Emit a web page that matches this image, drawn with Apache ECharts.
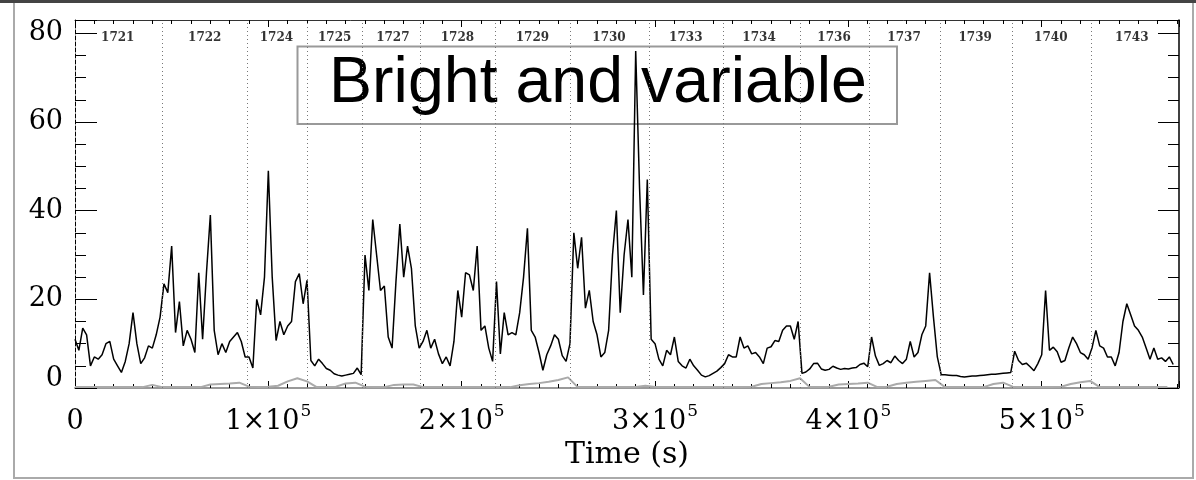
<!DOCTYPE html>
<html>
<head>
<meta charset="utf-8">
<script src="https://cdn.jsdelivr.net/npm/echarts@6/dist/echarts.min.js"></script>
<style>
  html, body {margin: 0; padding: 0; background: #fff;}
  #chart {width: 1196px; height: 480px;}
</style>
</head>
<body>
<div id="chart"></div>
<script>
// time sampling (s) of the light curves
const STEP = 2000;
const GREY_STEP = 5000;

// observation boundaries (s) and the obsid labels written along the top
const obsEdges = [45200, 89200, 120300, 148400, 178400, 217400, 256000, 297100, 335100, 375000, 410700, 447400, 484500, 525400];
const obsIds = ['1721', '1722', '1724', '1725', '1727', '1728', '1729', '1730', '1733', '1734', '1736', '1737', '1739', '1740', '1743'];
const obsIdTimes = [22100, 67100, 104200, 134300, 164400, 197800, 236600, 276200, 315900, 353800, 392600, 428800, 465600, 504700, 546600];

// source count rate, one value every STEP seconds
const rate = [
  11, 8.5, 13.5, 12, 5, 7, 6.5, 7.5, 10, 10.5,
  6.5, 5, 3.5, 6, 10, 17, 10, 5.5, 6.8, 9.5,
  9, 12, 16, 23.5, 21.5, 32, 12.5, 19.5, 9.5, 13,
  11, 8, 26, 11, 26, 39, 13, 7.5, 10, 8,
  10.5, 11.5, 12.5, 10.5, 7, 7, 4.5, 20, 16.5, 25,
  49, 25, 10.7, 15, 12, 14, 15, 24, 25.8, 19,
  24.3, 6.2, 5, 6.5, 5.5, 4.4, 4, 3.2, 2.9, 2.7,
  2.9, 3.1, 3.3, 4.5, 3, 30, 22, 38, 30, 22,
  23, 11.5, 9, 24, 37, 25, 32, 27, 14, 9,
  10.5, 13, 9, 11, 7.7, 5.5, 7, 5, 10.5, 22,
  16, 26, 25.5, 22, 32, 13, 14, 9, 6, 24,
  7.7, 17, 12, 12.5, 12, 17, 25, 36, 13, 11.5,
  8, 4, 7.5, 9.5, 12, 11, 7.3, 6, 10, 35,
  27, 34, 18, 22, 15, 12, 7, 8, 13, 30,
  40, 17, 30, 38, 25, 76, 45, 21, 47, 11,
  10, 6.5, 5, 8.5, 7.5, 11.5, 6, 5, 4.5, 6.5,
  5, 4, 2.9, 2.5, 2.8, 3.3, 3.8, 4.6, 5.5, 7.5,
  7, 7, 11.5, 9, 9.5, 7.7, 8, 7, 5.5, 9,
  9.3, 10.7, 10.5, 13, 14, 14, 11, 15, 3.3, 3.6,
  4.3, 5.5, 5.6, 4.3, 4, 4.2, 4.9, 4.5, 4.2, 4.4,
  4.3, 4.5, 4.6, 5.3, 5.6, 4.8, 11.5, 7.2, 5.1, 5.5,
  6.2, 5.7, 7.2, 6.2, 5.5, 6.5, 10.5, 7, 8, 12,
  14, 26, 16, 7, 3, 3, 2.9, 2.8, 2.8, 2.6,
  2.5, 2.6, 2.7, 2.7, 2.8, 2.9, 3, 3.1, 3.1, 3.2,
  3.3, 3.4, 3.5, 8.3, 6.2, 5.3, 5.6, 4.8, 3.9, 5.5,
  7.5, 22, 8.5, 9.2, 8.2, 5.8, 6.2, 9, 11.5, 10,
  8, 7.5, 6.5, 9, 13, 9.5, 9, 7, 7, 5,
  8, 15, 19, 16.5, 14, 13, 11.5, 9, 6.5, 9,
  6.5, 6.8, 6, 7, 5.3
];

// background rate (grey), one value every GREY_STEP seconds
const background = [
  0.2, 0.2, 0.2, 0.2, 0.2, 0.2, 0.2, 0.2, 0.7, 0.2,
  0.2, 0.2, 0.2, 0.2, 0.8, 0.9, 1.0, 1.2, 0.3, 0.2,
  0.3, 0.5, 1.5, 2.2, 1.5, 0.2, 0.2, 0.3, 1.0, 1.2,
  0.3, 0.2, 0.2, 0.7, 0.8, 0.8, 0.2, 0.2, 0.2, 0.2,
  0.2, 0.2, 0.2, 0.2, 0.2, 0.2, 0.6, 0.9, 1.1, 1.4,
  1.8, 2.4, 0.2, 0.2, 0.2, 0.2, 0.2, 0.2, 0.2, 0.5,
  0.2, 0.2, 0.2, 0.2, 0.2, 0.2, 0.2, 0.2, 0.2, 0.2,
  0.3, 0.9, 1.1, 1.3, 1.6, 2.2, 0.2, 0.2, 0.3, 0.8,
  0.9, 1.0, 1.2, 0.2, 0.3, 0.9, 1.2, 1.4, 1.6, 1.8,
  0.2, 0.2, 0.2, 0.2, 0.2, 0.9, 1.2, 0.3, 0.2, 0.2,
  0.2, 0.2, 0.3, 0.9, 1.3, 1.6, 0.2, 0.2, 0.2, 0.2,
  0.2, 0.2, 0.2, 0.2
];

const X_MAX = 571000;
const Y_MAX = 83;
const serif = 'DejaVu Serif';

const chart = echarts.init(document.getElementById('chart'));

const tickStyle = {color: '#000', width: 1};

chart.setOption({
  animation: false,
  grid: {left: 75, right: 17, top: 20, bottom: 92},
  xAxis: [
    {
      type: 'value', position: 'bottom', min: 0, max: X_MAX, interval: 100000,
      axisLine: {show: true, onZero: false, lineStyle: {color: '#999', width: 2}},
      axisTick: {show: true, inside: true, length: 7, lineStyle: tickStyle},
      minorTick: {show: true, splitNumber: 10, length: 4, lineStyle: tickStyle},
      splitLine: {show: false},
      axisLabel: {
        margin: 15, color: '#000', fontFamily: serif, fontSize: 27, showMaxLabel: false,
        // superscript exponent; "0" gets a zero-width spacer so all labels share a baseline
        formatter: v => v === 0 ? '{a|0}{e| }' : '{a|' + (v / 1e5) + '×10}{s|5}',
        rich: {
          a: {fontFamily: serif, fontSize: 27, color: '#000'},
          s: {fontFamily: serif, fontSize: 17, color: '#000', padding: [0, 0, 20, 1]},
          e: {fontFamily: serif, fontSize: 17, width: 0, padding: [0, 0, 20, 0]}
        }
      },
      name: 'Time (s)', nameLocation: 'middle', nameGap: 51,
      nameTextStyle: {fontFamily: serif, fontSize: 30, color: '#000'}
    },
    {
      type: 'value', position: 'top', min: 0, max: X_MAX, interval: 100000,
      axisLine: {show: true, onZero: false, lineStyle: {color: '#333', width: 1}},
      axisTick: {show: true, inside: true, length: 7, lineStyle: tickStyle},
      minorTick: {show: true, splitNumber: 10, length: 4, lineStyle: tickStyle},
      splitLine: {show: false},
      axisLabel: {show: false}
    }
  ],
  yAxis: [
    {
      type: 'value', position: 'left', min: 0, max: Y_MAX, interval: 20,
      axisLine: {show: true, onZero: false, lineStyle: {color: '#000', width: 1, type: [4, 2]}},
      axisTick: {show: true, inside: true, length: 22, lineStyle: tickStyle},
      minorTick: {show: true, splitNumber: 4, length: 11, lineStyle: tickStyle},
      splitLine: {show: false},
      axisLabel: {
        margin: 12, color: '#000', fontFamily: serif, fontSize: 27, showMaxLabel: false,
        formatter: v => v === 0 ? '{z|0}' : String(v),
        rich: {z: {fontFamily: serif, fontSize: 27, color: '#000', padding: [0, 0, 18, 0]}}
      }
    },
    {
      type: 'value', position: 'right', min: 0, max: Y_MAX, interval: 20,
      axisLine: {show: true, onZero: false, lineStyle: {color: '#000', width: 1.5}},
      axisTick: {show: true, inside: true, length: 21, lineStyle: tickStyle},
      minorTick: {show: true, splitNumber: 4, length: 11, lineStyle: tickStyle},
      splitLine: {show: false},
      axisLabel: {show: false}
    }
  ],
  series: [
    {
      name: 'background', type: 'line', xAxisIndex: 0, yAxisIndex: 0,
      data: background.map((v, i) => [i * GREY_STEP, v]),
      symbol: 'none', z: 2,
      lineStyle: {color: '#aaa', width: 2}
    },
    {
      name: 'source', type: 'line', xAxisIndex: 0, yAxisIndex: 0,
      data: rate.map((v, i) => [i * STEP, v]),
      symbol: 'none', z: 3,
      lineStyle: {color: '#000', width: 1.5},
      markLine: {
        silent: true, symbol: ['none', 'none'],
        label: {show: false},
        lineStyle: {color: '#777', width: 1, type: [1, 3]},
        data: obsEdges.map(t => ({xAxis: t}))
      }
    },
    {
      name: 'obsid', type: 'scatter', xAxisIndex: 0, yAxisIndex: 0,
      data: obsIds.map((id, i) => ({name: id, value: [obsIdTimes[i], 79]})),
      symbolSize: 0, silent: true,
      label: {
        show: true, position: 'inside', formatter: '{b}',
        fontFamily: serif, fontWeight: 'bold', fontSize: 12, color: '#000'
      }
    }
  ],
  graphic: [
    {type: 'rect', shape: {x: 14, y: 2, width: 1179, height: 476}, style: {fill: 'none', stroke: '#aaa', lineWidth: 2}, silent: true},
    {type: 'rect', shape: {x: 0, y: 0, width: 1196, height: 3}, style: {fill: '#444'}, silent: true},
    {type: 'rect', shape: {x: 297.5, y: 46.5, width: 599.5, height: 77.5}, style: {fill: 'none', stroke: '#999', lineWidth: 2}, silent: true},
    {
      type: 'text', x: 598, y: 84, silent: true,
      style: {text: 'Bright and variable', fontFamily: 'Liberation Sans', fontSize: 64.5, fill: '#000', textAlign: 'center', textVerticalAlign: 'middle'}
    }
  ]
});
</script>
</body>
</html>
